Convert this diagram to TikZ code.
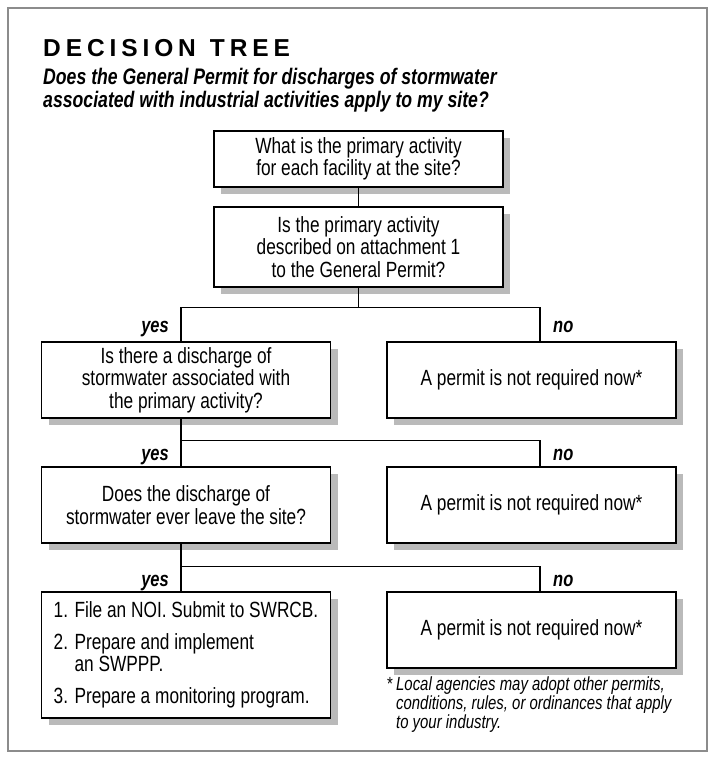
\documentclass[tikz,border=0pt]{standalone}
\usepackage{fontspec}
\setmainfont{Liberation Sans}[FakeStretch=0.785]
\newfontfamily\titlefont{Liberation Sans}[LetterSpace=20]
\usetikzlibrary{positioning,shadows}
\newcommand{\boxfont}{\fontsize{22}{22.5}\selectfont}
\newcommand{\lblfont}{\fontsize{21}{22}\selectfont\bfseries\itshape}
\tikzset{
    box/.style={
        rectangle,
        draw,
        line width=1.1pt,
        fill=white,
        minimum width=289pt,
        inner sep=0pt,
        align=center,
        font=\boxfont,
        drop shadow={shadow xshift=7pt, shadow yshift=-7pt, fill=black!27, opacity=1}
    },
    lbl/.style={font=\lblfont, inner sep=0pt},
    line/.style={line width=1.1pt}
}

\begin{document}
\begin{tikzpicture}[x=1pt,y=-1pt]
    \useasboundingbox (0,0) rectangle (711,758);
    % cornice grigia
    \draw[black!45, line width=2.5pt] (8,8) rectangle (707,751);

    % titolo
    \node[anchor=base west, inner sep=0pt, font=\titlefont\fontsize{24.5}{26}\selectfont\bfseries] (title) at (43,56) {DECISION\kern14pt TREE};
    \node[anchor=north west, inner sep=0pt, align=left, font=\fontsize{22.5}{23}\selectfont\bfseries\itshape] (sub) at (43,68)
        {Does the General Permit for discharges of stormwater\\associated with industrial activities apply to my site?};

    % domande
    \node[box, minimum height=56pt] (q1) at (358.5,159) {What is the primary activity\\for each facility at the site?};
    \node[box, minimum height=80pt] (q2) at (358.5,247) {Is the primary activity\\described on attachment 1\\to the General Permit?};
    \node[box, minimum height=76pt] (q3) at (186,380) {Is there a discharge of\\stormwater associated with\\the primary activity?};
    \node[box, minimum height=76pt] (q4) at (186,505) {Does the discharge of\\stormwater ever leave the site?};
    \node[box, minimum height=126pt, align=left] (act) at (186,655)
        {1. File an NOI. Submit to SWRCB.\\[9pt]2. Prepare and implement\\\hphantom{2. }an SWPPP.\\[9pt]3. Prepare a monitoring program.};

    % risposte no
    \node[box, minimum height=76pt] (n1) at (531.5,380) {A permit is not required now*};
    \node[box, minimum height=76pt] (n2) at (531.5,505) {A permit is not required now*};
    \node[box, minimum height=76pt] (n3) at (531.5,630) {A permit is not required now*};

    % nota
    \node[anchor=north west, inner sep=0pt, align=left, font=\fontsize{19}{19}\selectfont] (note) at (387,677)
        {*\,\textit{Local agencies may adopt other permits,}\\\hphantom{*\,}\textit{conditions, rules, or ordinances that apply}\\\hphantom{*\,}\textit{to your industry.}};

    % collegamenti
    \draw[line] (q1) -- (q2);
    \draw[line] (q2.south) -- ++(0,20) coordinate (j1);
    \draw[line] (j1) -| ([xshift=-5pt]q3.north);
    \draw[line] (j1) -| ([xshift=8.5pt]n1.north);
    \draw[line] ([xshift=-5pt]q3.south) -- ++(0,22) coordinate (j2);
    \draw[line] (j2) -- ([xshift=-5pt]q4.north);
    \draw[line] (j2) -| ([xshift=8.5pt]n2.north);
    \draw[line] ([xshift=-5pt]q4.south) -- ++(0,23) coordinate (j3);
    \draw[line] (j3) -- ([xshift=-5pt]act.north);
    \draw[line] (j3) -| ([xshift=8.5pt]n3.north);

    % etichette yes / no
    \node[lbl, anchor=base east] (y1) at (169,332) {yes};
    \node[lbl, anchor=base west] (o1) at (553,332) {no};
    \node[lbl, anchor=base east] (y2) at (169,460) {yes};
    \node[lbl, anchor=base west] (o2) at (553,460) {no};
    \node[lbl, anchor=base east] (y3) at (169,586) {yes};
    \node[lbl, anchor=base west] (o3) at (553,586) {no};
\end{tikzpicture}
\end{document}
